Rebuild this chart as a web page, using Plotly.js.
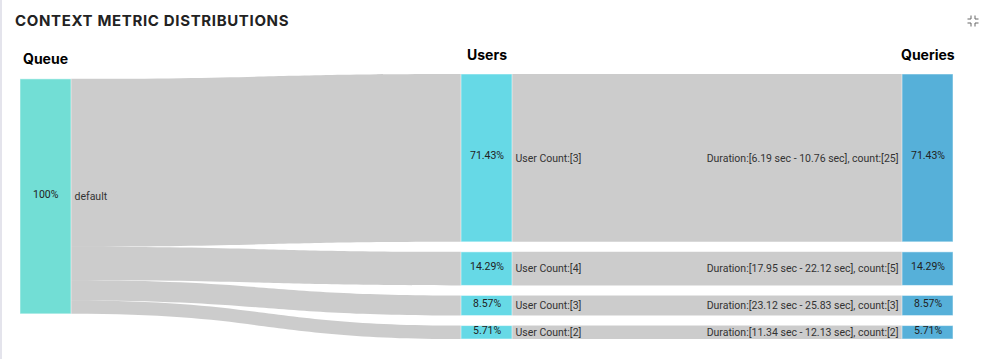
<!DOCTYPE html>
<html>
<head>
<meta charset="utf-8">
<script src="https://cdn.plot.ly/plotly-3.0.1.min.js"></script>
<style>
  html, body { margin: 0; padding: 0; background: #ffffff; }
  #wrap { position: relative; width: 987px; height: 359px; overflow: hidden; }
  #chart { position: absolute; left: 0; top: 0; width: 987px; height: 359px; }
  #edge { position: absolute; left: 0; top: 0; width: 2px; height: 359px; background: #e4e4ec; }
  #icon { position: absolute; left: 967px; top: 15px; width: 12px; height: 12px; }
  #chart .gtitle { letter-spacing: 0.65px; }
</style>
</head>
<body>
<div id="wrap">
  <div id="chart"></div>
  <div id="edge"></div>
  <svg id="icon" viewBox="0 0 12 12">
    <path d="M4 0.5 V4 H0.5 M8 0.5 V4 H11.5 M0.5 8 H4 V11.5 M11.5 8 H8 V11.5" fill="none" stroke="#666" stroke-width="1"/>
  </svg>
</div>
<script>
// ---- data ----
var columnTitles = ["Queue", "Users", "Queries"];
var nodeLabels = [
  "default",
  "User Count:[3]", "User Count:[4]", "User Count:[3]", "User Count:[2]",
  "Duration:[6.19 sec - 10.76 sec], count:[25]",
  "Duration:[17.95 sec - 22.12 sec], count:[5]",
  "Duration:[23.12 sec - 25.83 sec], count:[3]",
  "Duration:[11.34 sec - 12.13 sec], count:[2]"
];
var nodeLayer = [0, 1, 1, 1, 1, 2, 2, 2, 2];
var nodePercents = ["100%", "71.43%", "14.29%", "8.57%", "5.71%", "71.43%", "14.29%", "8.57%", "5.71%"];
var linkSource = [0, 0, 0, 0, 1, 2, 3, 4];
var linkTarget = [1, 2, 3, 4, 5, 6, 7, 8];
var linkValue  = [25, 5, 3, 2, 25, 5, 3, 2];
var layerColors = ["#72ded5", "#66d9e6", "#56b0d9"];

var nodeColors = nodeLayer.map(function (l) { return layerColors[l]; });

var data = [{
  type: "sankey",
  orientation: "h",
  arrangement: "snap",
  hoverinfo: "none",
  node: {
    label: nodeLabels,
    color: nodeColors,
    pad: 10,
    thickness: 51,
    line: { color: "rgba(255,255,255,0.5)", width: 1 }
  },
  link: {
    source: linkSource,
    target: linkTarget,
    value: linkValue,
    color: "rgba(0,0,0,0.2)"
  },
  textfont: { family: "Roboto, sans-serif", size: 10.5, color: "#333333", shadow: "none" }
}];

var layout = {
  width: 987,
  height: 359,
  margin: { l: 20, r: 34, t: 74, b: 20 },
  paper_bgcolor: "#ffffff",
  font: { family: "Roboto, sans-serif", size: 10.5, color: "#333333" },
  title: {
    text: "CONTEXT METRIC DISTRIBUTIONS",
    font: { family: "Inter, sans-serif", size: 15, weight: 700, color: "#222222" },
    x: 15 / 987, xanchor: "left", xref: "container",
    y: 1 - 21 / 359, yanchor: "middle", yref: "container"
  },
  showlegend: false
};

var gd = document.getElementById("chart");
Plotly.newPlot(gd, data, layout, { displayModeBar: false, staticPlot: true }).then(function () {
  var s = gd._fullLayout._size;
  var gr = gd.getBoundingClientRect();
  var anns = [];
  var boxes = [];
  var nodeEls = gd.querySelectorAll(".sankey-node");
  nodeEls.forEach(function (el) {
    var d = el.__data__ || {};
    var idx = (d.pointNumber != null) ? d.pointNumber : (d.node ? d.node.pointNumber : null);
    var rectEl = el.querySelector(".node-rect") || el;
    var r = rectEl.getBoundingClientRect();
    if (idx == null || r.height === 0) return;
    boxes[idx] = { cx: r.left + r.width / 2 - gr.left, cy: r.top + r.height / 2 - gr.top, top: r.top - gr.top };
  });
  function px2x(px) { return (px - s.l) / s.w; }
  function py2y(py) { return 1 - (py - s.t) / s.h; }
  boxes.forEach(function (b, i) {
    if (!b) return;
    anns.push({
      text: nodePercents[i], xref: "paper", yref: "paper",
      x: px2x(b.cx), y: py2y(b.cy), xanchor: "center", yanchor: "middle",
      yshift: 2, showarrow: false,
      font: { family: "Roboto, sans-serif", size: 10.5, color: "#222222" }
    });
  });
  columnTitles.forEach(function (t, layer) {
    var topBox = null;
    boxes.forEach(function (b, i) {
      if (b && nodeLayer[i] === layer && (!topBox || b.top < topBox.top)) topBox = b;
    });
    if (!topBox) return;
    anns.push({
      text: "<b>" + t + "</b>", xref: "paper", yref: "paper",
      x: px2x(topBox.cx), y: py2y(topBox.top - 20), xanchor: "center", yanchor: "middle",
      showarrow: false,
      font: { family: "Inter, sans-serif", size: 14, color: "#000000" }
    });
  });
  return Plotly.relayout(gd, { annotations: anns });
});
</script>
</body>
</html>
